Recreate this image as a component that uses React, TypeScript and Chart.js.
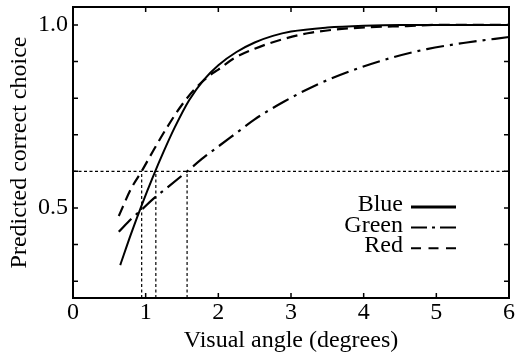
import { useEffect, useRef } from 'react';
import { Chart, registerables } from 'chart.js';

Chart.register(...registerables);

const FONT = "'Liberation Serif', 'Times New Roman', serif";
const FONT_SIZE = 24;

// Curves
const blueX = [0.65, 0.8, 0.95, 1.1, 1.25, 1.4, 1.6, 1.8, 2.0, 2.25, 2.5, 2.75, 3.0, 3.5, 4.0, 4.5, 5.0, 6.0];
const blueY = [0.344, 0.43, 0.51, 0.585, 0.655, 0.72, 0.795, 0.85, 0.89, 0.926, 0.952, 0.97, 0.982, 0.993, 0.998, 1.0, 1.0, 1.0];

const greenX = [0.63, 0.8, 0.95, 1.1, 1.3, 1.57, 1.8, 2.0, 2.25, 2.5, 2.9, 3.35, 3.86, 4.36, 4.87, 5.42, 6.0];
const greenY = [0.435, 0.47, 0.496, 0.524, 0.556, 0.6, 0.638, 0.668, 0.705, 0.742, 0.79, 0.836, 0.877, 0.909, 0.934, 0.952, 0.967];

const redX = [0.63, 0.8, 0.95, 1.1, 1.3, 1.5, 1.7, 1.9, 2.0, 2.2, 2.5, 2.85, 3.25, 3.7, 4.1, 4.6, 5.0, 6.0];
const redY = [0.478, 0.553, 0.602, 0.655, 0.722, 0.782, 0.83, 0.865, 0.878, 0.907, 0.935, 0.959, 0.978, 0.989, 0.994, 0.997, 1.0, 1.0];

const seriesNames = ['Blue', 'Green', 'Red'];

// Reference lines
const thresholdY = 0.6;
const crossingX = [0.945, 1.14, 1.57];

// Axes
const xMin = 0;
const xMax = 6;
const yMin = 0.254;
const yMax = 1.049;
const xTicks = [0, 1, 2, 3, 4, 5, 6];
const yTicks = [0.3, 0.4, 0.5, 0.6, 0.7, 0.8, 0.9, 1.0];
const yLabeled = ['0.5', '1.0'];

const xTitle = 'Visual angle (degrees)';
const yTitle = 'Predicted correct choice';

const framePlugin = {
  id: 'frameTicksLegend',
  afterDraw(chart: any) {
    const { ctx, chartArea } = chart;
    const { left, right, top, bottom } = chartArea;
    const xs = chart.scales.x;
    const ys = chart.scales.y;
    ctx.save();
    ctx.strokeStyle = '#000';
    ctx.lineWidth = 2;
    ctx.setLineDash([]);
    ctx.strokeRect(left, top, right - left, bottom - top);
    const tl = 5;
    ctx.lineWidth = 1.5;
    ctx.beginPath();
    xTicks.forEach((v) => {
      const p = xs.getPixelForValue(v);
      ctx.moveTo(p, bottom);
      ctx.lineTo(p, bottom - tl);
      ctx.moveTo(p, top);
      ctx.lineTo(p, top + tl);
    });
    yTicks.forEach((v) => {
      const p = ys.getPixelForValue(v);
      ctx.moveTo(left, p);
      ctx.lineTo(left + tl, p);
      ctx.moveTo(right, p);
      ctx.lineTo(right - tl, p);
    });
    ctx.stroke();

    // legend
    const textRight = 403;
    const lineStart = 411;
    const lineEnd = 456;
    const firstBase = 211;
    const rowGap = 20.6;
    ctx.font = `${FONT_SIZE}px ${FONT}`;
    ctx.fillStyle = '#000';
    ctx.textAlign = 'right';
    ctx.textBaseline = 'alphabetic';
    const items = chart.data.datasets.filter((d: any) => d.legendDash);
    items.forEach((d: any, i: number) => {
      const base = firstBase + i * rowGap;
      ctx.fillText(d.label, textRight, base);
      ctx.beginPath();
      ctx.setLineDash(d.legendDash);
      ctx.lineWidth = d.legendWidth;
      ctx.moveTo(lineStart, base - 4);
      ctx.lineTo(lineEnd, base - 4);
      ctx.stroke();
    });
    ctx.restore();
  },
};

export default function App() {
  const ref = useRef<HTMLCanvasElement | null>(null);

  useEffect(() => {
    document.body.style.margin = '0';
    const canvas = ref.current;
    if (!canvas) return;

    const toPts = (xs: number[], ys: number[]) => xs.map((x, i) => ({ x, y: ys[i] }));
    const dotted = {
      borderColor: '#000',
      borderWidth: 1.2,
      borderDash: [3, 2.5],
      pointRadius: 0,
      fill: false,
      tension: 0,
    };

    const datasets: any[] = [
      {
        label: seriesNames[0],
        data: toPts(blueX, blueY),
        borderColor: '#000',
        borderWidth: 2,
        borderDash: [],
        legendDash: [1, 0],
        legendWidth: 3,
      },
      {
        label: seriesNames[1],
        data: toPts(greenX, greenY),
        borderColor: '#000',
        borderWidth: 2.2,
        borderDash: [18, 6, 3, 6],
        legendDash: [16, 5, 3, 5],
        legendWidth: 2,
      },
      {
        label: seriesNames[2],
        data: toPts(redX, redY),
        borderColor: '#000',
        borderWidth: 2.2,
        borderDash: [11, 6],
        legendDash: [10, 7.5],
        legendWidth: 2,
      },
    ].map((d) => ({ ...d, pointRadius: 0, fill: false, cubicInterpolationMode: 'monotone' }));

    datasets.push({ ...dotted, label: 'threshold', data: [{ x: xMin, y: thresholdY }, { x: xMax, y: thresholdY }] });
    crossingX.forEach((c, i) => {
      datasets.push({ ...dotted, label: 'cross' + i, data: [{ x: c, y: yMin }, { x: c, y: thresholdY }] });
    });

    const chart = new Chart(canvas, {
      type: 'line',
      data: { datasets },
      options: {
        animation: false,
        responsive: false,
        parsing: false as any,
        layout: { padding: { top: 7, right: 8, left: 0, bottom: 0 } },
        plugins: { legend: { display: false }, tooltip: { enabled: false } },
        scales: {
          x: {
            type: 'linear',
            min: xMin,
            max: xMax,
            afterBuildTicks: (s: any) => {
              s.ticks = xTicks.map((v) => ({ value: v }));
            },
            afterFit: (s: any) => {
              s.height = 58;
              s.paddingLeft = 0;
              s.paddingRight = 0;
            },
            grid: { display: false, drawTicks: false },
            border: { display: false },
            ticks: {
              autoSkip: false,
              maxRotation: 0,
              padding: 0,
              color: '#000',
              font: { family: FONT, size: FONT_SIZE },
              callback: (v: any) => String(v),
            },
            title: {
              display: true,
              text: xTitle,
              color: '#000',
              font: { family: FONT, size: FONT_SIZE },
              padding: { top: 0, bottom: 1 },
            },
          },
          y: {
            type: 'linear',
            min: yMin,
            max: yMax,
            afterBuildTicks: (s: any) => {
              s.ticks = yTicks.map((v) => ({ value: v }));
            },
            afterFit: (s: any) => {
              s.width = 73;
              s.paddingTop = 0;
              s.paddingBottom = 0;
            },
            grid: { display: false, drawTicks: false },
            border: { display: false },
            ticks: {
              autoSkip: false,
              padding: 5,
              color: '#000',
              font: { family: FONT, size: FONT_SIZE },
              callback: (v: any) => {
                const t = Number(v).toFixed(1);
                return yLabeled.includes(t) ? t : '';
              },
            },
            title: {
              display: true,
              text: yTitle,
              color: '#000',
              font: { family: FONT, size: FONT_SIZE },
              padding: { top: 5, bottom: 0 },
            },
          },
        },
      },
      plugins: [framePlugin],
    });

    return () => chart.destroy();
  }, []);

  return (
    <div style={{ width: 517, height: 356, background: '#fff' }}>
      <canvas ref={ref} width={517} height={356} />
    </div>
  );
}
